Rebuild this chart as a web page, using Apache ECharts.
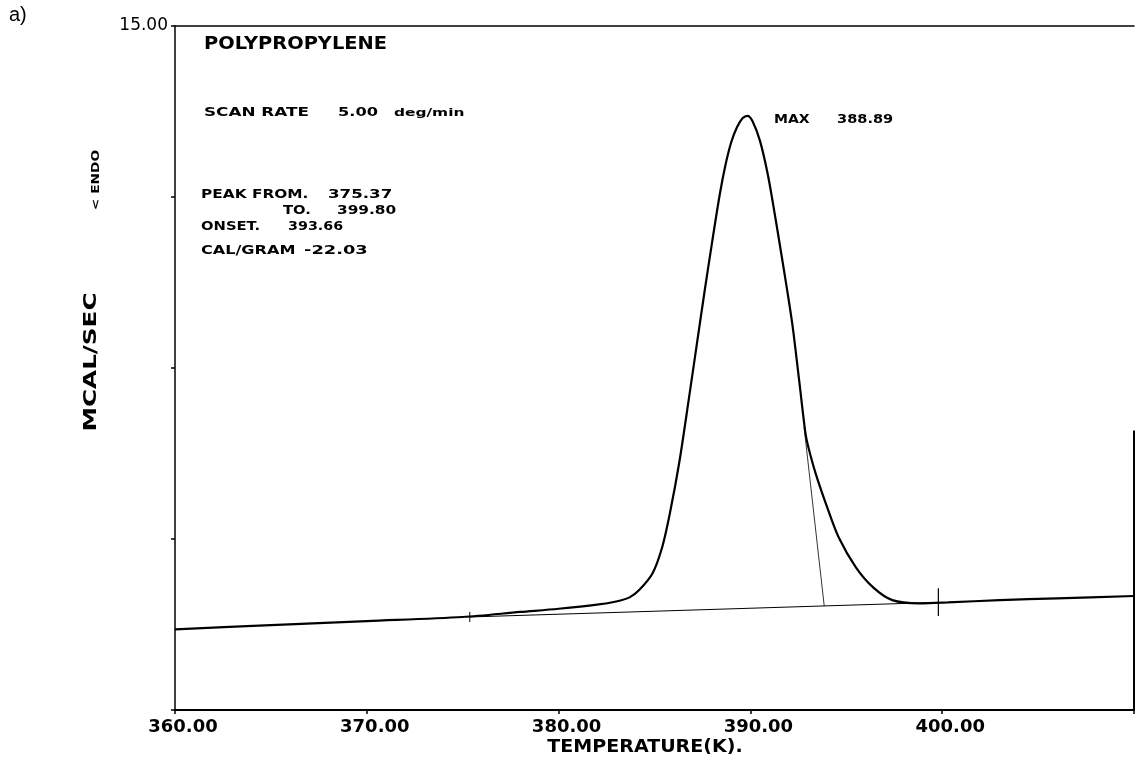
<!DOCTYPE html>
<html>
<head>
<meta charset="utf-8">
<script src="https://cdn.jsdelivr.net/npm/echarts@6/dist/echarts.min.js"></script>
<style>html,body{margin:0;padding:0;background:#fff}#c{width:1137px;height:782px}</style>
</head>
<body>
<div id="c"></div>
<script>
// Temperature (K) and heat flow (mcal/sec)
const temps = [360, 365, 370, 375, 378, 380, 382, 383, 383.7, 384.2, 384.9, 385.4, 385.8, 386.3, 386.8, 387.2, 387.6, 388.0, 388.4, 388.7, 389.0, 389.3, 389.6, 389.85, 390.1, 390.5, 390.9, 391.2, 391.5, 391.9, 392.2, 392.55, 392.86, 393.0, 393.4, 394.0, 394.6, 395.5, 396.4, 397.4, 398.8, 400.3, 403, 406, 410];
const heatFlow = [1.77, 1.86, 1.95, 2.04, 2.15, 2.22, 2.31, 2.38, 2.47, 2.63, 3.00, 3.57, 4.31, 5.45, 6.85, 8.0, 9.15, 10.25, 11.3, 11.95, 12.45, 12.78, 12.98, 13.03, 12.92, 12.48, 11.76, 11.05, 10.29, 9.25, 8.42, 7.2, 6.1, 5.8, 5.19, 4.45, 3.79, 3.13, 2.69, 2.41, 2.34, 2.36, 2.41, 2.45, 2.50];
// Integration baseline between peak limits
const baseT = [375.37, 399.80];
const baseY = [2.04, 2.36];
// Onset tangent
const tanT = [392.8, 393.85];
const tanY = [6.2, 2.28];
// Peak-limit markers (vertical)
const endMarkT = [399.80, 399.80];
const endMarkY = [2.67, 2.06];
const startMarkT = [375.37, 375.37];
const startMarkY = [2.15, 1.93];
// Right frame edge
const frameT = [410, 410];
const frameY = [0, 6.13];
// Axis ticks
const xTicks = [360, 370, 380, 390, 400];
const yMin = 0, yMax = 15, yStep = 3.75;

const zip = (a, b) => a.map((v, i) => [v, b[i]]);
const FONT = 'DejaVu Sans';

const chart = echarts.init(document.getElementById('c'), null, {renderer: 'canvas'});
const txt = (text, x, y, size, sx, extra) => Object.assign({
  type: 'text', x: x, y: y, scaleX: sx || 1,
  style: {text: text, font: 'bold ' + size + 'px "' + FONT + '"', fill: '#000', textVerticalAlign: 'middle'}
}, extra || {});

chart.setOption({
  animation: false,
  backgroundColor: '#fff',
  grid: {left: 175, right: 2, top: 26, bottom: 72},
  xAxis: [{
    type: 'value', min: 360, max: 410, interval: 10, position: 'bottom',
    axisLine: {lineStyle: {color: '#000', width: 2}},
    axisTick: {show: true, length: 4, lineStyle: {color: '#000', width: 1.5}},
    splitLine: {show: false},
    axisLabel: {
      color: '#000', fontFamily: FONT, fontWeight: 'bold', fontSize: 18, margin: 8,
      padding: [0, 0, 0, 16],
      formatter: v => (xTicks.indexOf(v) >= 0 ? v.toFixed(2) : '')
    }
  }, {
    type: 'value', min: 360, max: 410, interval: 10, position: 'top',
    axisLine: {show: true, lineStyle: {color: '#000', width: 1.5}},
    axisTick: {show: false}, axisLabel: {show: false}, splitLine: {show: false}
  }],
  yAxis: [{
    type: 'value', min: yMin, max: yMax, interval: yStep, position: 'left',
    axisLine: {show: true, lineStyle: {color: '#000', width: 1.5}},
    axisTick: {show: true, length: 4, lineStyle: {color: '#000', width: 1.5}},
    splitLine: {show: false},
    axisLabel: {
      color: '#000', fontFamily: FONT, fontSize: 17, margin: 7,
      formatter: v => (v === yMax ? v.toFixed(2) : '')
    }
  }],
  series: [
    {type: 'line', data: zip(baseT, baseY), showSymbol: false, lineStyle: {color: '#000', width: 1}, z: 2},
    {type: 'line', data: zip(tanT, tanY), showSymbol: false, lineStyle: {color: '#000', width: 0.8}, z: 2},
    {type: 'line', data: zip(endMarkT, endMarkY), showSymbol: false, lineStyle: {color: '#000', width: 1.2}, z: 2},
    {type: 'line', data: zip(startMarkT, startMarkY), showSymbol: false, lineStyle: {color: '#000', width: 1}, z: 2},
    {type: 'line', data: zip(frameT, frameY), showSymbol: false, lineStyle: {color: '#000', width: 2}, z: 2},
    {type: 'line', data: zip(temps, heatFlow), showSymbol: false, smooth: 0.3,
     lineStyle: {color: '#000', width: 2.2}, z: 3}
  ],
  graphic: [
    {type: 'text', x: 9, y: 15, style: {text: 'a)', font: '20px "Liberation Sans"', fill: '#000', textVerticalAlign: 'middle'}},
    txt('POLYPROPYLENE', 204, 45, 17, 1.14),
    txt('SCAN RATE', 204, 113, 12, 1.4),
    txt('5.00', 338, 113, 12, 1.35),
    txt('deg/min', 394, 113, 11, 1.4),
    txt('PEAK FROM.', 201, 195, 12, 1.28),
    txt('375.37', 328, 195, 13, 1.28),
    txt('TO.', 283, 211, 12, 1.23),
    txt('399.80', 337, 211, 13, 1.18),
    txt('ONSET.', 201, 227, 12, 1.23),
    txt('393.66', 288, 227, 13, 1.1),
    txt('CAL/GRAM', 201, 251, 12, 1.34),
    txt('-22.03', 304, 251, 13, 1.37),
    txt('MAX', 774, 120, 12, 1.17),
    txt('388.89', 837, 120, 13, 1.12),
    {type: 'text', x: 92, y: 362, rotation: Math.PI / 2, scaleX: 1.45,
     style: {text: 'MCAL/SEC', font: 'bold 17px "' + FONT + '"', fill: '#000', textAlign: 'center', textVerticalAlign: 'middle'}},
    {type: 'text', x: 96, y: 180, rotation: Math.PI / 2, scaleX: 1.25,
     style: {text: '< ENDO', font: 'bold 11px "' + FONT + '"', fill: '#000', textAlign: 'center', textVerticalAlign: 'middle'}},
    {type: 'text', x: 645, y: 748, scaleX: 1.12,
     style: {text: 'TEMPERATURE(K).', font: 'bold 17px "' + FONT + '"', fill: '#000', textAlign: 'center', textVerticalAlign: 'middle'}}
  ]
});
</script>
</body>
</html>
